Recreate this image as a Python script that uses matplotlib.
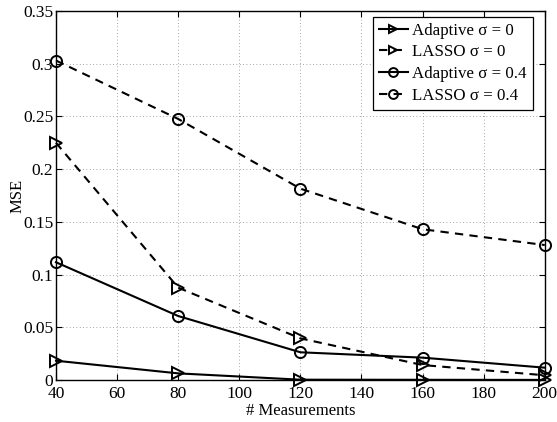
import matplotlib
matplotlib.use("Agg")
import matplotlib.pyplot as plt

plt.rcParams['font.family'] = ['Liberation Serif', 'DejaVu Serif']
plt.rcParams['font.size'] = 12

# data
measurements = [40, 80, 120, 160, 200]
adaptive_s0 = [0.0183, 0.0063, 0.0003, 0.0002, 0.0001]
lasso_s0 = [0.225, 0.0876, 0.0395, 0.0142, 0.0045]
adaptive_s04 = [0.1117, 0.0607, 0.0263, 0.0212, 0.0117]
lasso_s04 = [0.303, 0.2476, 0.1815, 0.143, 0.128]

fig = plt.figure(figsize=(5.57, 4.22), dpi=100)
ax = fig.add_axes([0.1005, 0.0995, 0.8775, 0.8745])

mk = dict(color='black', markerfacecolor='none', markeredgecolor='black',
          markersize=8, markeredgewidth=1.4, linewidth=1.5, clip_on=False)
ax.plot(measurements, adaptive_s0, '->', label='Adaptive σ = 0', **mk)
ax.plot(measurements, lasso_s0, '-->', label='LASSO σ = 0', dashes=(4, 3), **mk)
ax.plot(measurements, adaptive_s04, '-o', label='Adaptive σ = 0.4', **mk)
ax.plot(measurements, lasso_s04, '--o', label='LASSO σ = 0.4', dashes=(4, 3), **mk)

ax.set_xlim(40, 200)
ax.set_ylim(0, 0.35)
ax.set_xticks(range(40, 201, 20))
ax.set_yticks([0, 0.05, 0.1, 0.15, 0.2, 0.25, 0.3, 0.35])
ax.set_yticklabels(['0', '0.05', '0.1', '0.15', '0.2', '0.25', '0.3', '0.35'])
ax.grid(True, linestyle=(0, (1, 3)), color='#888888', linewidth=0.6)
ax.tick_params(direction='in', top=True, right=True, length=4, labelsize=12.5)
ax.tick_params(axis='x', pad=4)
ax.tick_params(axis='y', pad=2)
for s in ax.spines.values():
    s.set_linewidth(1.0)
ax.set_xlabel('# Measurements', labelpad=1)
ax.set_ylabel('MSE')
ax.yaxis.set_label_coords(-0.063, 0.5)

leg = ax.legend(loc='upper right', bbox_to_anchor=(0.975, 0.984), borderaxespad=0,
                fancybox=False, framealpha=1, edgecolor='black', markerscale=0.8,
                handlelength=1.7, handletextpad=0.25, borderpad=0.35, labelspacing=0.33,
                fontsize=12.2)
leg.get_frame().set_linewidth(0.9)

fig.savefig('out.png', dpi=100)
